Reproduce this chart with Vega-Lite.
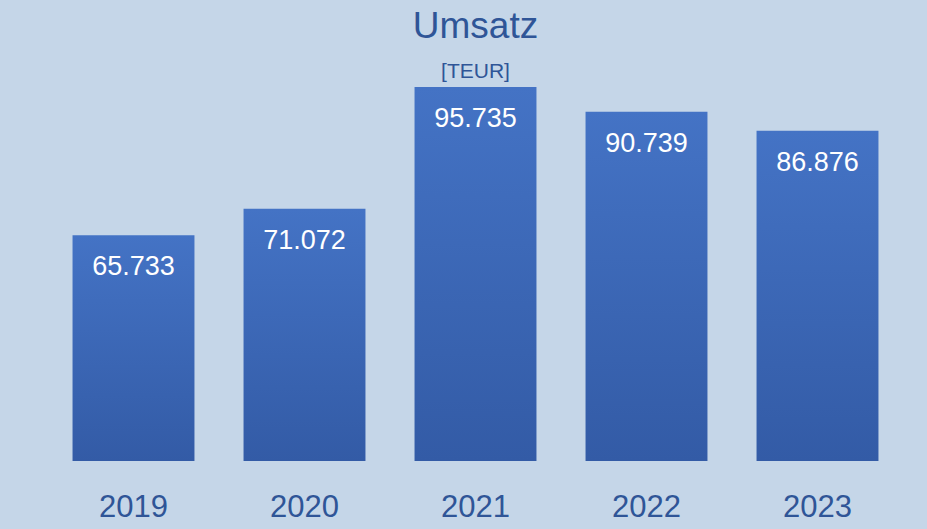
{
  "$schema": "https://vega.github.io/schema/vega-lite/v6.json",
  "width": 855,
  "height": 395,
  "autosize": "none",
  "padding": {"left": 48, "top": 66, "right": 24, "bottom": 68},
  "background": "#c5d6e8",
  "title": {
    "text": "Umsatz",
    "subtitle": "[TEUR]",
    "anchor": "middle",
    "font": "Liberation Sans",
    "fontSize": 37,
    "fontWeight": "normal",
    "color": "#2f5597",
    "subtitleFont": "Liberation Sans",
    "subtitleFontSize": 21,
    "subtitleColor": "#2f5597",
    "subtitlePadding": 15,
    "offset": -17
  },
  "data": {
    "values": [
      {"year": "2019", "value": 65733, "label": "65.733"},
      {"year": "2020", "value": 71072, "label": "71.072"},
      {"year": "2021", "value": 95735, "label": "95.735"},
      {"year": "2022", "value": 90739, "label": "90.739"},
      {"year": "2023", "value": 86876, "label": "86.876"}
    ]
  },
  "config": {"view": {"stroke": null}},
  "encoding": {
    "x": {
      "field": "year",
      "type": "nominal",
      "sort": null,
      "scale": {"paddingInner": 0.287, "paddingOuter": 0.1435},
      "axis": {
        "title": null,
        "domain": false,
        "ticks": false,
        "labelAngle": 0,
        "labelFont": "Liberation Sans",
        "labelFontSize": 31,
        "labelColor": "#2f5597",
        "labelPadding": 31
      }
    },
    "y": {
      "field": "value",
      "type": "quantitative",
      "scale": {"domain": [20000, 100000], "zero": false, "nice": false},
      "axis": null
    }
  },
  "layer": [
    {
      "mark": {
        "type": "bar",
        "color": {
          "gradient": "linear",
          "x1": 0, "y1": 0, "x2": 0, "y2": 1,
          "stops": [
            {"offset": 0, "color": "#4473c5"},
            {"offset": 1, "color": "#335ba6"}
          ]
        }
      },
      "encoding": {"y2": {"datum": 20000}}
    },
    {
      "mark": {
        "type": "text",
        "baseline": "top",
        "dy": 19,
        "color": "#ffffff",
        "font": "Liberation Sans",
        "fontSize": 27
      },
      "encoding": {"text": {"field": "label"}}
    }
  ]
}
